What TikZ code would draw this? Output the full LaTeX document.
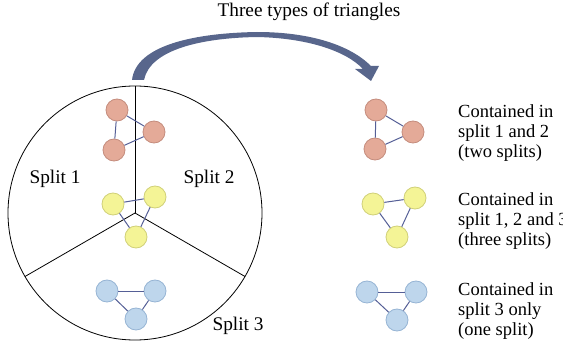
\documentclass[tikz,border=0pt]{standalone}
\usepackage{fontspec}
\setmainfont{Liberation Serif}
\definecolor{arrowcol}{RGB}{88,102,140}
\definecolor{edgecol}{RGB}{85,95,150}
\definecolor{redfill}{RGB}{228,170,152}
\definecolor{redline}{RGB}{196,140,125}
\definecolor{yelfill}{RGB}{244,244,150}
\definecolor{yelline}{RGB}{208,208,120}
\definecolor{bluefill}{RGB}{190,214,236}
\definecolor{blueline}{RGB}{150,180,212}
\tikzset{
  vtx/.style={circle, minimum size=22pt, inner sep=0pt, line width=0.8pt},
  rv/.style={vtx, fill=redfill, draw=redline},
  yv/.style={vtx, fill=yelfill, draw=yelline},
  bv/.style={vtx, fill=bluefill, draw=blueline},
  tedge/.style={draw=edgecol, line width=1pt},
  lbl/.style={font=\fontsize{19.3}{20}\selectfont, inner sep=0pt},
  desc/.style={font=\fontsize{18.5}{20}\selectfont, inner sep=0pt, align=left, anchor=west},
}
\begin{document}
\begin{tikzpicture}[x=1pt,y=-1pt]
\useasboundingbox (0,0) rectangle (563,345);
% title
\node[lbl] (title) at (309,12) {Three types of triangles};
% curved arrow
\fill[arrowcol] (132,80) .. controls (136,45) and (195,33) .. (257,32)
  .. controls (310,32) and (350,45) .. (371,66)
  -- (379,66) -- (371,81) -- (355,69) -- (363,69)
  .. controls (345,50) and (305,38) .. (257,37)
  .. controls (200,38) and (150,50) .. (144,80) -- cycle;
% circle with splits
\coordinate (c) at (135,213);
\draw[line width=0.8pt] (c) circle (127);
\coordinate (p1) at (135,86);
\coordinate (p2) at (25,276.5);
\coordinate (p3) at (245,276.5);
\draw[line width=0.8pt] (c) -- (p1);
\draw[line width=0.8pt] (c) -- (p2);
\draw[line width=0.8pt] (c) -- (p3);
\node[lbl] (s1) at (55,179) {Split 1};
\node[lbl] (s2) at (209,179) {Split 2};
\node[lbl] (s3) at (238,326) {Split 3};
% left red triangle
\node[rv] (lr1) at (117,110) {};
\node[rv] (lr2) at (154,132) {};
\node[rv] (lr3) at (114,150) {};
% left yellow
\node[yv] (ly1) at (113,204) {};
\node[yv] (ly2) at (155,197) {};
\node[yv] (ly3) at (136,237) {};
% left blue
\node[bv] (lb1) at (107,291) {};
\node[bv] (lb2) at (155,291) {};
\node[bv] (lb3) at (136,319) {};
% right red
\node[rv] (rr1) at (376,110) {};
\node[rv] (rr2) at (413,132) {};
\node[rv] (rr3) at (375,149) {};
% right yellow
\node[yv] (ry1) at (373,204) {};
\node[yv] (ry2) at (415,198) {};
\node[yv] (ry3) at (397,237) {};
% right blue
\node[bv] (rb1) at (367,292) {};
\node[bv] (rb2) at (416,292) {};
\node[bv] (rb3) at (397,320) {};
% edges
\foreach \p in {lr,ly,lb,rr,ry,rb}{
  \draw[tedge] (\p1) -- (\p2);
  \draw[tedge] (\p2) -- (\p3);
  \draw[tedge] (\p3) -- (\p1);
}
% descriptions
\node[desc] (d1) at (458,133) {Contained in\\split 1 and 2\\(two splits)};
\node[desc] (d2) at (458,221) {Contained in\\split 1, 2 and 3\\(three splits)};
\node[desc] (d3) at (458,311) {Contained in\\split 3 only\\(one split)};
\end{tikzpicture}
\end{document}
